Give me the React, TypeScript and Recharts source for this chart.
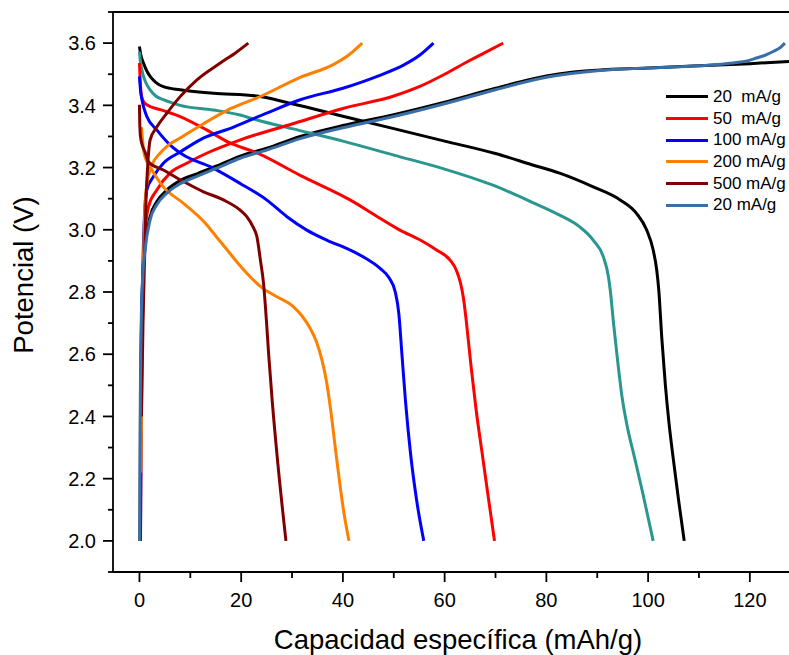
import React from 'react';
import { LineChart, Line, XAxis, YAxis, ReferenceLine } from 'recharts';

type Pt = [number, number];

// Tick values
const xTicks = [0, 10, 20, 30, 40, 50, 60, 70, 80, 90, 100, 110, 120];
const yTicks = [1.9, 2.0, 2.1, 2.2, 2.3, 2.4, 2.5, 2.6, 2.7, 2.8, 2.9, 3.0, 3.1, 3.2, 3.3, 3.4, 3.5, 3.6, 3.7];

// Legend
const legendLabels = ['20  mA/g', '50  mA/g', '100 mA/g', '200 mA/g', '500 mA/g', '20 mA/g'];

// 20 mA/g (first cycle)
const charge20: Pt[] = [
  [0.1, 2.0], [0.2, 2.4], [0.4, 2.7], [0.7, 2.86], [1.1, 2.945], [2.1, 3.042], [3.4, 3.09], [5.4, 3.128],
  [8, 3.158], [11.3, 3.18], [15.2, 3.205], [19.8, 3.237], [25, 3.262], [31.6, 3.3], [40, 3.335], [50, 3.37],
  [60, 3.41], [70, 3.455], [75, 3.476], [80, 3.494], [85, 3.506], [90, 3.513], [100, 3.52], [110, 3.527],
  [120, 3.534], [127.7, 3.541],
];
const discharge20: Pt[] = [
  [0, 3.589], [0.3, 3.56], [0.79, 3.536], [1.4, 3.512], [2.1, 3.493], [3.2, 3.474], [4.7, 3.46], [8, 3.45],
  [14.5, 3.439], [23.1, 3.43], [30, 3.405], [40, 3.365], [50, 3.325], [60, 3.285], [70, 3.245], [77, 3.21],
  [82.6, 3.182], [89.2, 3.138], [94.5, 3.096], [97.7, 3.053], [99.7, 3.0], [101, 2.935], [101.7, 2.87],
  [102.1, 2.806], [102.7, 2.65], [103.4, 2.5], [104.1, 2.38], [104.9, 2.27], [106, 2.13], [107.1, 2.0],
];
// 50 mA/g
const charge50: Pt[] = [
  [0.2, 2.0], [0.4, 2.5], [0.7, 2.85], [1.1, 2.99], [1.77, 3.074], [3.42, 3.128], [6, 3.182], [9.3, 3.214],
  [13.2, 3.246], [20, 3.29], [30, 3.34], [40, 3.39], [50, 3.43], [55, 3.46], [60, 3.5], [65, 3.545],
  [68, 3.57], [71.5, 3.6],
];
const discharge50: Pt[] = [
  [0, 3.536], [0.15, 3.48], [0.4, 3.43], [0.9, 3.41], [1.45, 3.402], [4.1, 3.386], [8, 3.364], [13.2, 3.321],
  [17.8, 3.279], [23.1, 3.247], [31.6, 3.175], [41.4, 3.096], [47.3, 3.037], [51.2, 2.999], [55.2, 2.967],
  [58.4, 2.935], [61.1, 2.902], [62.3, 2.87], [63.1, 2.83], [63.7, 2.78], [64.3, 2.7], [65.2, 2.56],
  [66.2, 2.42], [67.3, 2.29], [68.5, 2.15], [69.8, 2.0],
];
// 100 mA/g
const charge100: Pt[] = [
  [0.2, 2.0], [0.4, 2.6], [0.7, 2.9], [1.0, 3.05], [1.45, 3.128], [2.75, 3.171], [4.7, 3.214], [8, 3.25],
  [12, 3.29], [18.5, 3.33], [25, 3.375], [31.6, 3.418], [40, 3.455], [47, 3.495], [52, 3.53], [55, 3.56],
  [57.8, 3.6],
];
const discharge100: Pt[] = [
  [0, 3.493], [0.2, 3.45], [0.5, 3.418], [0.9, 3.39], [1.45, 3.364], [3.4, 3.321], [6, 3.273], [8.65, 3.24],
  [13.9, 3.203], [19.8, 3.149], [25, 3.096], [29, 3.042], [32.9, 2.999], [36.8, 2.967], [41.4, 2.935],
  [44.3, 2.91], [47.3, 2.876], [49.1, 2.845], [50.3, 2.8], [51.0, 2.73], [51.6, 2.6], [52.3, 2.45],
  [53.3, 2.28], [54.5, 2.13], [55.9, 2.0],
];
// 200 mA/g
const charge200: Pt[] = [
  [0.3, 2.22], [0.5, 2.6], [0.8, 2.9], [1.1, 3.08], [1.5, 3.15], [2.5, 3.21], [4, 3.245], [5.5, 3.27],
  [8, 3.295], [12.5, 3.34], [18, 3.39], [24, 3.43], [31.6, 3.49], [38, 3.53], [41, 3.56], [43.8, 3.6],
];
const discharge200: Pt[] = [
  [0.4, 3.33], [0.6, 3.29], [0.8, 3.257], [1.3, 3.225], [2.1, 3.202], [4.7, 3.138], [8.65, 3.085], [13, 3.02],
  [15, 2.98], [17.5, 2.93], [19.5, 2.89], [22, 2.845], [24, 2.815], [27, 2.785], [30.3, 2.752], [32, 2.722],
  [33.5, 2.685], [34.8, 2.64], [35.9, 2.58], [36.8, 2.51], [37.6, 2.42], [38.5, 2.3], [39.5, 2.17],
  [40.3, 2.08], [41.2, 2.0],
];
// 500 mA/g
const charge500: Pt[] = [
  [0.4, 2.4], [0.7, 2.7], [1.0, 2.9], [1.3, 3.1], [1.6, 3.2], [2.1, 3.289], [3.4, 3.33], [5.4, 3.375],
  [8, 3.428], [11.3, 3.482], [15.9, 3.536], [19, 3.57], [21.4, 3.6],
];
const discharge500: Pt[] = [
  [0, 3.402], [0.05, 3.35], [0.2, 3.3], [0.6, 3.27], [1.1, 3.25], [1.77, 3.219], [4.7, 3.192], [8.65, 3.155],
  [12.6, 3.122], [16.5, 3.096], [19.8, 3.063], [21.1, 3.042], [22.3, 3.01], [23.1, 2.977], [23.8, 2.9],
  [24.4, 2.827], [25.0, 2.699], [25.4, 2.6], [26.1, 2.45], [27.2, 2.25], [28.8, 2.0],
];
// 20 mA/g (second cycle)
const charge20b: Pt[] = [
  [0.05, 2.0], [0.15, 2.4], [0.35, 2.7], [0.65, 2.85], [1.1, 2.935], [2.1, 3.032], [3.4, 3.08], [5.4, 3.118],
  [8, 3.148], [11.3, 3.172], [15.2, 3.198], [19.8, 3.23], [25, 3.256], [31.6, 3.293], [40, 3.328], [50, 3.364],
  [60, 3.405], [70, 3.45], [80, 3.49], [90, 3.511], [100, 3.52], [110, 3.527], [116.7, 3.536], [119.5, 3.543],
  [121.3, 3.552], [123, 3.561], [124.6, 3.573], [126, 3.586], [126.9, 3.6],
];
const discharge20b: Pt[] = [
  [0, 3.573], [0.2, 3.54], [0.47, 3.514], [1.2, 3.475], [2.1, 3.45], [3.2, 3.43], [4.7, 3.418], [8, 3.4],
  [14.5, 3.385], [19.8, 3.369], [23.1, 3.353], [30, 3.325], [40, 3.285], [50, 3.24], [60, 3.195], [70, 3.14],
  [77, 3.09], [82.6, 3.047], [86.5, 3.01], [89.2, 2.967], [91.2, 2.913], [92.2, 2.849], [92.6, 2.8],
  [93.2, 2.7], [94.0, 2.58], [94.9, 2.46], [96.0, 2.36], [97.3, 2.27], [99, 2.15], [101, 2.0],
];

const BLACK = '#000000';
const RED = '#FF0000';
const BLUE = '#0000FF';
const ORANGE = '#FF8000';
const DARKRED = '#800000';
const STEEL = '#3A6EA8';
const TEAL = '#29978F';
const FONT = '"Liberation Sans", Arial, sans-serif';

const toData = (pts: Pt[]) => pts.map(([x, y]) => ({ x, y }));

const series = [
  { id: 'c20', color: BLACK, pts: charge20 },
  { id: 'd20', color: BLACK, pts: discharge20 },
  { id: 'd20b', color: TEAL, pts: discharge20b },
  { id: 'c50', color: RED, pts: charge50 },
  { id: 'd50', color: RED, pts: discharge50 },
  { id: 'c100', color: BLUE, pts: charge100 },
  { id: 'd100', color: BLUE, pts: discharge100 },
  { id: 'c200', color: ORANGE, pts: charge200 },
  { id: 'd200', color: ORANGE, pts: discharge200 },
  { id: 'c500', color: DARKRED, pts: charge500 },
  { id: 'd500', color: DARKRED, pts: discharge500 },
  { id: 'c20b', color: STEEL, pts: charge20b },
];
const legendColors = [BLACK, RED, BLUE, ORANGE, DARKRED, STEEL];

const AXIS_W = 1.8;

const YTick = (props: any) => {
  const { x, y, payload } = props;
  const v = payload.value as number;
  const major = Math.abs(v * 5 - Math.round(v * 5)) < 1e-6;
  return (
    <g>
      <line x1={x} x2={x - (major ? 10 : 5)} y1={y} y2={y} stroke="#000" strokeWidth={AXIS_W} />
      {major && (
        <text x={x - 17} y={y + 7.2} textAnchor="end" fontSize={20} fontFamily={FONT} fill="#000">
          {v.toFixed(1)}
        </text>
      )}
    </g>
  );
};

const XTick = (props: any) => {
  const { x, y, payload } = props;
  const v = payload.value as number;
  const major = v % 20 === 0;
  return (
    <g>
      <line x1={x} x2={x} y1={y} y2={y + (major ? 10 : 6)} stroke="#000" strokeWidth={AXIS_W} />
      {major && (
        <text x={x} y={y + 35} textAnchor="middle" fontSize={20} fontFamily={FONT} fill="#000">
          {String(v)}
        </text>
      )}
    </g>
  );
};

export default function App() {
  return (
    <div style={{ position: 'absolute', left: 0, top: 0, width: 789, height: 655, background: '#fff' }}>
      <LineChart width={789} height={655} margin={{ top: 12, right: 0, bottom: 0, left: 0 }}>
        <XAxis
          type="number"
          dataKey="x"
          domain={[-5.2, 127.7]}
          allowDataOverflow
          ticks={xTicks}
          interval={0}
          height={83}
          tickSize={0}
          tickMargin={0}
          tickLine={false}
          tick={<XTick />}
          axisLine={{ stroke: '#000', strokeWidth: AXIS_W }}
          label={{
            content: () => (
              <text x={458} y={649} textAnchor="middle" fontSize={27.5} fontFamily={FONT} fill="#000">
                Capacidad específica (mAh/g)
              </text>
            ),
          }}
        />
        <YAxis
          type="number"
          dataKey="y"
          domain={[1.9, 3.7]}
          allowDataOverflow
          ticks={yTicks}
          interval={0}
          width={113}
          tickSize={0}
          tickMargin={0}
          tickLine={false}
          tick={<YTick />}
          axisLine={{ stroke: '#000', strokeWidth: AXIS_W }}
          label={{
            content: () => (
              <text
                x={0}
                y={0}
                transform="translate(32.5,275) rotate(-90)"
                textAnchor="middle"
                fontSize={27.5}
                fontFamily={FONT}
                fill="#000"
              >
                Potencial (V)
              </text>
            ),
          }}
        />
        <ReferenceLine y={3.7} stroke="#000" strokeWidth={AXIS_W} />
        {series.map((s) => (
          <Line
            key={s.id}
            data={toData(s.pts)}
            dataKey="y"
            type="monotone"
            stroke={s.color}
            strokeWidth={3}
            dot={false}
            activeDot={false}
            isAnimationActive={false}
          />
        ))}
      </LineChart>
      <div style={{ position: 'absolute', left: 666, top: 86, fontFamily: FONT, fontSize: 17 }}>
        {legendLabels.map((lab, i) => (
          <div key={i} style={{ display: 'flex', alignItems: 'center', height: 21.7 }}>
            <div style={{ width: 42, height: 3, background: legendColors[i], marginRight: 5 }} />
            <span style={{ whiteSpace: 'pre', color: '#000', lineHeight: '20px' }}>{lab}</span>
          </div>
        ))}
      </div>
    </div>
  );
}
